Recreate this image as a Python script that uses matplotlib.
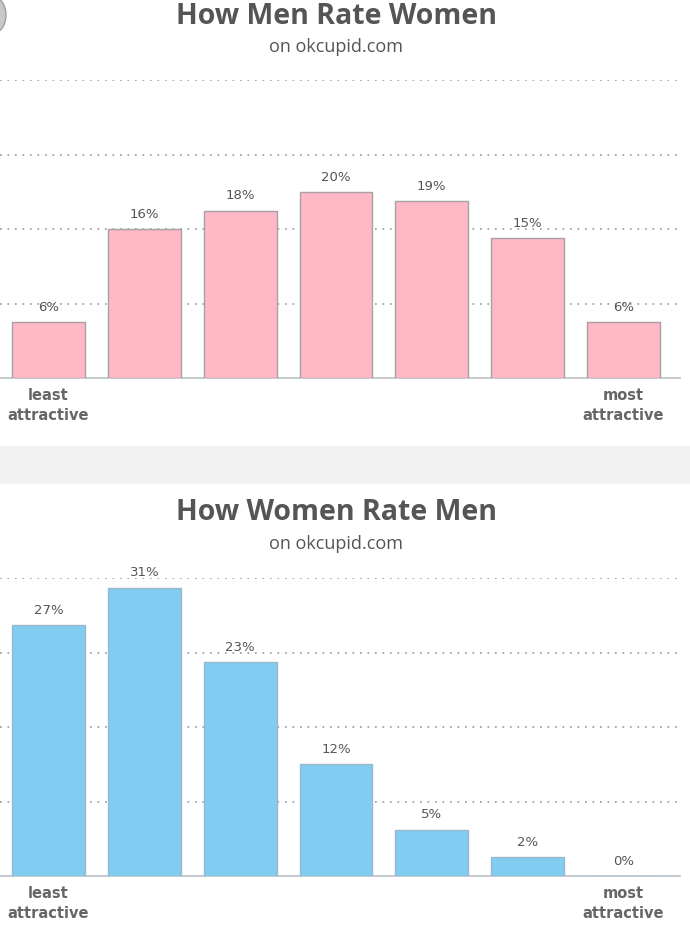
import matplotlib
matplotlib.use('Agg')
import matplotlib.pyplot as plt
from matplotlib.patches import Rectangle, Circle

# data
ratings = ['least\nattractive', '', '', '', '', '', 'most\nattractive']
men_rate_women = [6, 16, 18, 20, 19, 15, 6]
women_rate_men = [27, 31, 23, 12, 5, 2, 0]
titles = ['How Men Rate Women', 'How Women Rate Men']
subtitle = 'on okcupid.com'
grid_ticks = [8, 16, 24, 32]

W, H = 690, 933
fig = plt.figure(figsize=(W / 100, H / 100), dpi=100)
fig.patch.set_facecolor('white')

# grey separator band between the panels
fig.patches.append(Rectangle((0, 1 - 483 / H), 1, (483 - 446) / H,
                             transform=fig.transFigure, color='#f2f2f2', zorder=0))
# little grey circle cut off at top-left corner
fig.patches.append(Circle((-8 / W, 1 - 15 / H), 14 / W, transform=fig.transFigure,
                          facecolor='#c8c8c8', edgecolor='#a0a0a0', zorder=0))


def panel(base_px, values, color, edge, title, title_px):
    top_px = base_px - 32 * 9.3
    ax = fig.add_axes([0, 1 - base_px / H, 680 / W, (base_px - top_px) / H])
    ax.set_facecolor('none')
    x = list(range(len(values)))
    bars = ax.bar(x, values, width=0.76, color=color, edgecolor=edge, linewidth=1, zorder=3)
    for b, v in zip(bars, values):
        ax.annotate(f'{v}%', (b.get_x() + b.get_width() / 2, v), xytext=(0, 6),
                    textcoords='offset points', ha='center', va='bottom',
                    fontsize=9.5, color='#555555', zorder=4)
    ax.set_xlim(-0.506, 6.59)
    ax.set_ylim(0, 32)
    ax.set_yticks(grid_ticks)
    ax.yaxis.grid(True, linestyle=(0, (1, 3.5)), color='#999999', linewidth=1.2)
    ax.set_axisbelow(True)
    ax.tick_params(axis='y', left=False, labelleft=False)
    ax.set_xticks(x)
    ax.set_xticklabels(ratings, fontsize=10.5, fontweight='semibold', color='#666666')
    for lbl in ax.get_xticklabels():
        lbl.set_linespacing(1.45)
    ax.tick_params(axis='x', length=0, pad=7)
    for s in ['top', 'right', 'left']:
        ax.spines[s].set_visible(False)
    ax.spines['bottom'].set_color('#b8c0c8')
    ax.spines['bottom'].set_linewidth(1.2)
    fig.text(0.487, 1 - title_px / H, title, ha='center', va='center',
             fontsize=20.5, fontweight='bold', color='#555555', family='Open Sans')
    fig.text(0.487, 1 - (title_px + 31) / H, subtitle, ha='center', va='center',
             fontsize=13, color='#555555', family='Open Sans')
    return ax


panel(378, men_rate_women, '#ffb8c6', '#a8a0a2', titles[0], 16)
panel(876, women_rate_men, '#80cdf1', '#9ab8c8', titles[1], 513)

fig.savefig('out.png', dpi=100)
